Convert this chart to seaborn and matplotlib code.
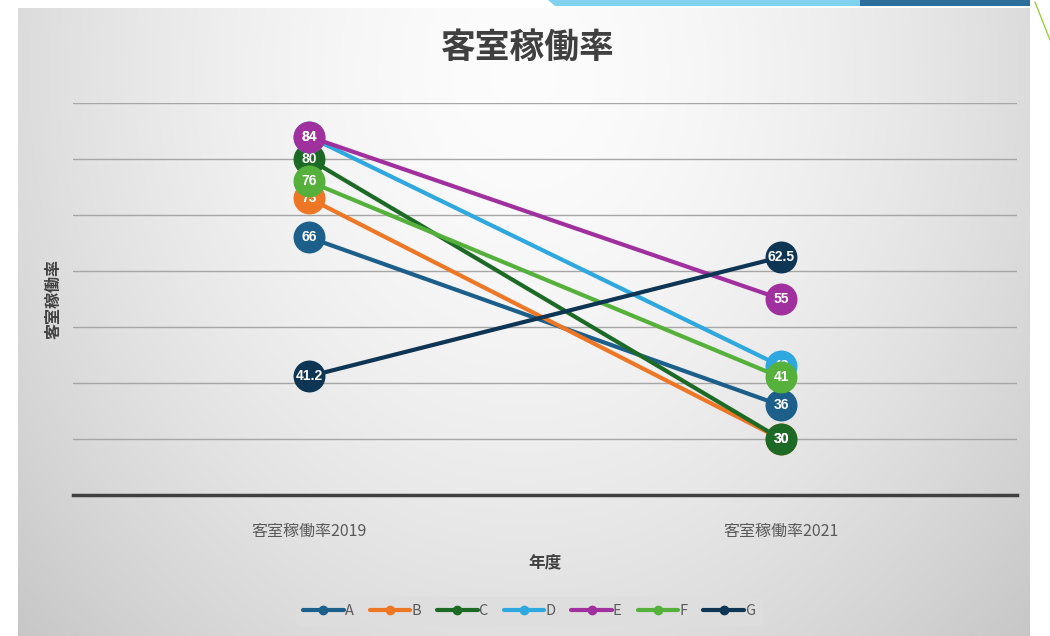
import numpy as np
import pandas as pd
import matplotlib
matplotlib.use("Agg")
import matplotlib.pyplot as plt
from matplotlib.lines import Line2D
from matplotlib.patches import Rectangle, Polygon
import seaborn as sns

# ---- data ----
categories = ["客室稼働率2019", "客室稼働率2021"]
series_names = ["A", "B", "C", "D", "E", "F", "G"]
A = [66, 36]
B = [73, 30]
C = [80, 30]
D = [84, 43]
E = [84, 55]
F = [76, 41]
G = [41.2, 62.5]
values = [A, B, C, D, E, F, G]
colors = ["#1c5f8a", "#ee7726", "#1d6a26", "#2ea8de", "#a1309f", "#55b13c", "#0e3553"]
title = "客室稼働率"
ylabel = "客室稼働率"
xlabel = "年度"

rows = []
for name, vals in zip(series_names, values):
    for cat, v in zip(categories, vals):
        rows.append({"series": name, "cat": cat, "value": v})
df = pd.DataFrame(rows)

sns.set_theme(style="white")
plt.rcParams["font.family"] = ["Noto Sans CJK JP", "DejaVu Sans"]

W, H = 1050, 636
fig = plt.figure(figsize=(W / 100, H / 100), dpi=100)
fig.patch.set_facecolor("white")

# background gradient for chart area
bg = fig.add_axes([18 / W, 0, (1030 - 18) / W, 1 - 8 / H], zorder=-10)
yy, xx = np.mgrid[0:1:300j, 0:1:500j]
r = np.sqrt(((xx - 0.5) / 0.62) ** 2 + ((yy - 0.1) / 1.2) ** 2)
g = np.clip(0.99 - 0.18 * r ** 1.6, 0.78, 0.99)
bg.imshow(np.dstack([g, g, g]), aspect="auto", extent=[0, 1, 0, 1], origin="upper")
bg.set_axis_off()

# slide decorations top-right
deco = fig.add_axes([0, 0, 1, 1], zorder=-20)
deco.set_xlim(0, W)
deco.set_ylim(H, 0)
deco.set_axis_off()
deco.add_patch(Polygon([[548, 0], [860, 0], [860, 6], [555, 6]], color="#7fd3ee", lw=0))
deco.add_patch(Polygon([[860, 0], [1035, 0], [1035, 6], [860, 6]], color="#2c6e9c", lw=0))
deco.add_patch(Rectangle((1030, 0), 20, H, color="white", lw=0))
deco.plot([1035, 1050], [2, 40], color="#9bd13a", lw=1)

ax = fig.add_axes([73 / W, 1 - 495 / H, (1017 - 73) / W, (495 - 103) / H])
ax.patch.set_alpha(0)

palette = dict(zip(series_names, colors))
sns.lineplot(data=df, x="cat", y="value", hue="series", palette=palette, ax=ax,
             marker="o", markersize=23, markeredgewidth=0, linewidth=3,
             legend=False, sort=False)

for i, (name, vals) in enumerate(zip(series_names, values)):
    for j, v in enumerate(vals):
        lbl = f"{v:g}"
        ax.text(j, v, lbl, ha="center", va="center", color="white",
                fontsize=10, fontweight="bold", zorder=5 + i,
                family=["Liberation Sans Narrow", "Liberation Sans", "DejaVu Sans"])

for i, ln in enumerate(ax.get_lines()):
    ln.set_zorder(4 + i)
    ln.set_clip_on(False)

ax.set_xlim(-0.5, 1.5)
ax.set_ylim(20, 90)
ax.set_yticks(np.arange(30, 91, 10))
ax.yaxis.grid(True, color="#a6a6a6", linewidth=1)
ax.set_axisbelow(True)
ax.tick_params(axis="y", left=False, labelleft=False)
ax.tick_params(axis="x", bottom=False, labelsize=11.5, labelcolor="#595959", pad=14)
for s in ["top", "right", "left"]:
    ax.spines[s].set_visible(False)
ax.spines["bottom"].set_color("#404040")
ax.spines["bottom"].set_linewidth(2.5)

ax.set_xlabel(xlabel, fontsize=12, fontweight="bold", color="#404040", labelpad=10)
ax.set_ylabel(ylabel, fontsize=11.5, fontweight="bold", color="#404040", labelpad=8)

fig.text(527 / W, 1 - 47 / H, title, ha="center", va="center", fontsize=25,
         fontweight="bold", color="#404040")

handles = [Line2D([0], [0], color=c, lw=3, marker="o", markersize=6) for c in colors]
leg = fig.legend(handles, series_names, loc="center", bbox_to_anchor=(529 / W, 1 - 611 / H),
                 ncol=7, frameon=True, fontsize=10.5, handlelength=2.8, columnspacing=1.1,
                 handletextpad=0.05, borderpad=0.45)
leg.get_frame().set_facecolor("#dedede")
leg.get_frame().set_edgecolor("#dedede")
for t in leg.get_texts():
    t.set_color("#595959")

fig.savefig("out.png", dpi=100)
